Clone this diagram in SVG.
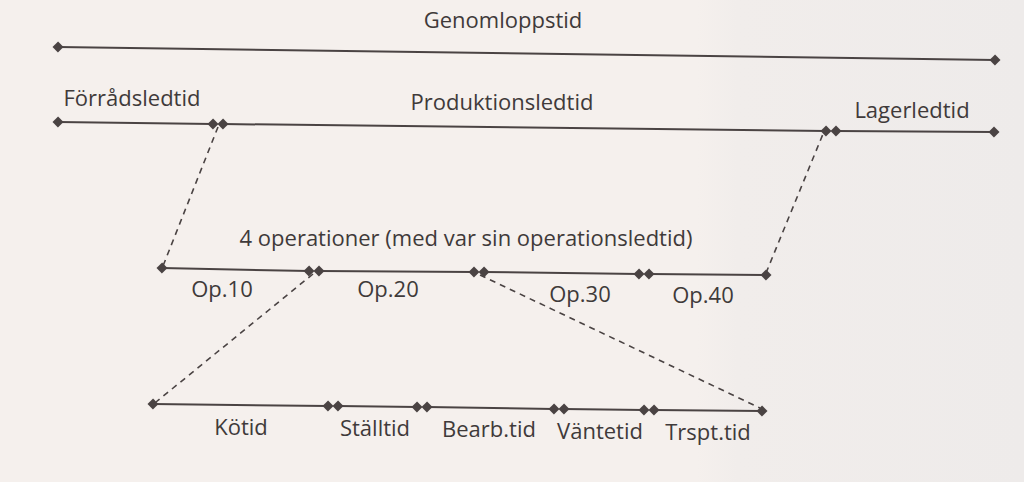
<svg xmlns="http://www.w3.org/2000/svg" width="1024" height="482" viewBox="0 0 1024 482">
  <defs>
    <marker id="dia" viewBox="-6 -6 12 12" refX="0" refY="0" markerWidth="12" markerHeight="12" markerUnits="userSpaceOnUse" orient="auto">
      <path d="M-5.5,0 L0,-5.5 L5.5,0 L0,5.5 Z" fill="#4a4343"/>
    </marker>
    <linearGradient id="bg" x1="0" y1="0" x2="1" y2="0">
      <stop offset="0" stop-color="#f5f0ed"/>
      <stop offset="0.68" stop-color="#f5f0ed"/>
      <stop offset="0.72" stop-color="#f1edeb"/>
      <stop offset="1" stop-color="#eeebea"/>
    </linearGradient>
  </defs>
  <style>
    .seg { stroke: #4a4343; stroke-width: 2; fill: none; marker-start: url(#dia); marker-end: url(#dia); }
    .dash { stroke: #4a4343; stroke-width: 1.6; fill: none; stroke-dasharray: 6 5; }
    text { font-family: "Open Sans", "Noto Sans", "DejaVu Sans", sans-serif; font-size: 22px; fill: #3f3a3a; text-anchor: middle; }
  </style>
  <rect x="0" y="0" width="1024" height="482" fill="url(#bg)"/>

  <g id="genomloppstid">
    <line class="seg" x1="58" y1="47" x2="995" y2="60"/>
    <text x="503" y="28">Genomloppstid</text>
  </g>

  <g id="forradsledtid">
    <line class="seg" x1="58" y1="122" x2="213" y2="124"/>
    <text x="132" y="106">Förrådsledtid</text>
  </g>
  <g id="produktionsledtid">
    <line class="seg" x1="223" y1="124" x2="826" y2="131"/>
    <text x="502" y="110">Produktionsledtid</text>
  </g>
  <g id="lagerledtid">
    <line class="seg" x1="836" y1="131" x2="994" y2="132"/>
    <text x="912" y="118">Lagerledtid</text>
  </g>

  <g id="operationer">
    <text x="466" y="246">4 operationer (med var sin operationsledtid)</text>
  </g>
  <g id="op10">
    <line class="seg" x1="162" y1="268" x2="309" y2="271"/>
    <text x="222" y="297">Op.10</text>
  </g>
  <g id="op20">
    <line class="seg" x1="319" y1="271" x2="474" y2="272"/>
    <text x="388" y="297">Op.20</text>
  </g>
  <g id="op30">
    <line class="seg" x1="484" y1="272" x2="639" y2="274"/>
    <text x="580" y="302">Op.30</text>
  </g>
  <g id="op40">
    <line class="seg" x1="649" y1="274" x2="766" y2="275"/>
    <text x="703" y="303">Op.40</text>
  </g>

  <g id="kotid">
    <line class="seg" x1="153" y1="404" x2="328" y2="406"/>
    <text x="241" y="435">Kötid</text>
  </g>
  <g id="stalltid">
    <line class="seg" x1="338" y1="406" x2="417" y2="407"/>
    <text x="375" y="436">Ställtid</text>
  </g>
  <g id="bearbtid">
    <line class="seg" x1="427" y1="407" x2="554" y2="409"/>
    <text x="489" y="437">Bearb.tid</text>
  </g>
  <g id="vantetid">
    <line class="seg" x1="564" y1="409" x2="644" y2="410"/>
    <text x="600" y="439">Väntetid</text>
  </g>
  <g id="trspttid">
    <line class="seg" x1="654" y1="410" x2="762" y2="411"/>
    <text x="708" y="440">Trspt.tid</text>
  </g>

  <g id="connectors">
    <line class="dash" x1="218" y1="127" x2="163" y2="266"/>
    <line class="dash" x1="766" y1="273" x2="823" y2="134"/>
    <line class="dash" x1="313" y1="274" x2="156" y2="402"/>
    <line class="dash" x1="480" y1="275" x2="760" y2="408"/>
  </g>
</svg>
